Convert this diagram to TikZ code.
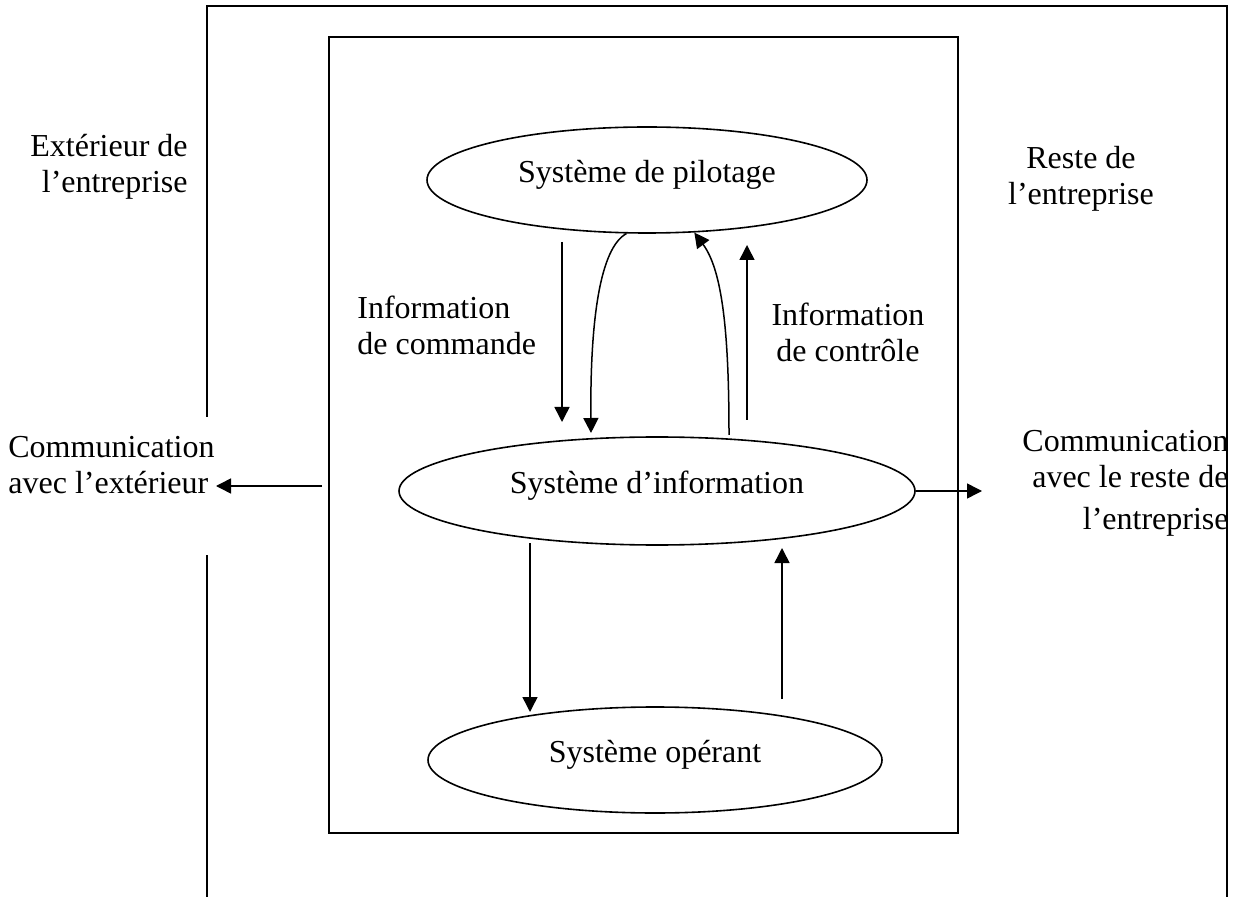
\documentclass[tikz,border=0pt]{standalone}
\usepackage{fontspec}
\setmainfont{Liberation Serif}
\usetikzlibrary{shapes.geometric,arrows.meta}
\begin{document}
\begin{tikzpicture}[x=0.5pt,y=-0.5pt,
  lbl/.style={inner sep=0pt, font=\fontsize{16}{18}\selectfont},
  sys/.style={ellipse, draw, line width=0.8pt, inner sep=0pt,
    font=\fontsize{16}{18}\selectfont, text height=0.69em, text depth=0.45em},
  frame/.style={line width=1pt},
  arr/.style={line width=0.75pt, -{Triangle[length=7.5pt,width=7.5pt]}}]

\useasboundingbox (0,0) rectangle (1241,897);

% company boundary (open towards the outside on the left) and the system box
\draw[frame] (207,417) -- (207,6) -- (1227,6) -- (1227,897);
\draw[frame] (207,555) -- (207,897);
\draw[frame] (329,37) rectangle (958,833);

% the three subsystems
\node[sys, minimum width=220pt, minimum height=53pt] (pil) at (647,180) {Système de pilotage};
\node[sys, minimum width=258pt, minimum height=54pt] (inf) at (657,491) {Système d’information};
\node[sys, minimum width=227pt, minimum height=53pt] (ope) at (655,760) {Système opérant};

% labels
\node[lbl, anchor=north east, align=right] (ext) at (188,134) {Extérieur de\\l’entreprise};
\node[lbl, anchor=north, align=center] (reste) at (1081,146) {Reste de\\l’entreprise};
\node[lbl, anchor=north west, align=left] (cmd) at (357,296) {Information\\de commande};
\node[lbl, anchor=north, align=center] (ctl) at (848,303) {Information\\de contrôle};
\node[lbl, anchor=north west, align=left] (cext) at (8,436) {Communication\\avec l’extérieur};
\node[lbl, anchor=north east, align=right] (crest) at (1229,430) {Communication\\avec le reste de\\[3pt]l’entreprise};

% free ends of the flows
\coordinate (cmdTop) at (562,242);
\coordinate (cmdBot) at (562,422);
\coordinate (downEnd) at (591,433);
\coordinate (upStart) at (729,435);
\coordinate (ctlBot) at (747,420);
\coordinate (ctlTop) at (747,245);
\coordinate (opDownTop) at (530,543);
\coordinate (opDownBot) at (530,712);
\coordinate (opUpBot) at (782,699);
\coordinate (opUpTop) at (782,548);
\coordinate (extStart) at (322,486);
\coordinate (extEnd) at (216,486);
\coordinate (restEnd) at (982,491);

% flows between pilotage and information
\draw[arr] (cmdTop) -- (cmdBot);
\draw[arr] (pil.-111) .. controls (600,248) and (590,320) .. (downEnd);
\draw[arr] (upStart) .. controls (729,330) and (722,270) .. (pil.-48);
\draw[arr] (ctlBot) -- (ctlTop);

% flows between information and operations
\draw[arr] (opDownTop) -- (opDownBot);
\draw[arr] (opUpBot) -- (opUpTop);

% communication with the outside and with the rest of the company
\draw[arr] (extStart) -- (extEnd);
\draw[arr] (inf.east) -- (restEnd);

\end{tikzpicture}
\end{document}
